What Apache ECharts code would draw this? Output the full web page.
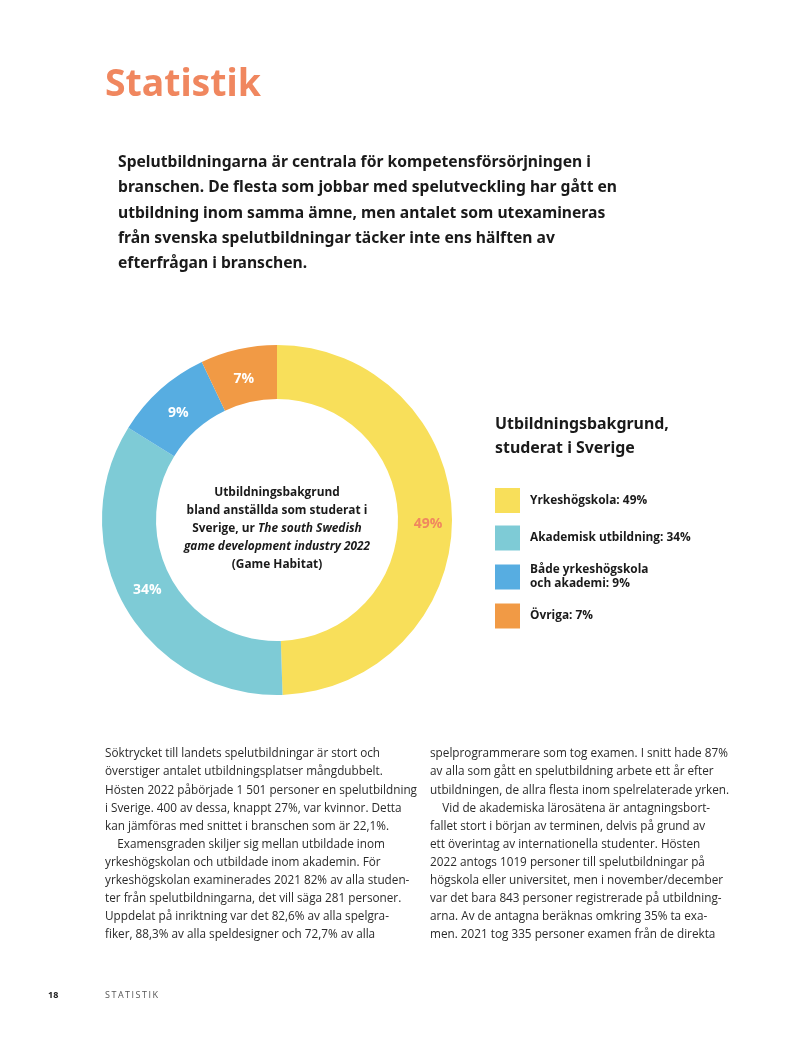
<!DOCTYPE html>
<html><head><meta charset="utf-8">
<script src="https://cdn.jsdelivr.net/npm/echarts@6/dist/echarts.min.js"></script>
<style>html,body{margin:0;padding:0;background:#fff}#c{width:800px;height:1052px}</style>
</head><body><div id="c"></div>
<script>
// ---------- data ----------
const pageTitle = 'Statistik';
const introLines = [
  'Spelutbildningarna är centrala för kompetensförsörjningen i',
  'branschen. De flesta som jobbar med spelutveckling har gått en',
  'utbildning inom samma ämne, men antalet som utexamineras',
  'från svenska spelutbildningar täcker inte ens hälften av',
  'efterfrågan i branschen.'
];
const categories = ['Yrkeshögskola', 'Akademisk utbildning', 'Både yrkeshögskola och akademi', 'Övriga'];
const legendNames = ['Yrkeshögskola', 'Akademisk utbildning', 'Både yrkeshögskola\noch akademi', 'Övriga'];
const shares = [49, 34, 9, 7];
const legendTitleLines = ['Utbildningsbakgrund,', 'studerat i Sverige'];
const centerLines = [
  [['b', 'Utbildningsbakgrund']],
  [['b', 'bland anställda som studerat i']],
  [['b', 'Sverige, ur '], ['bi', 'The south Swedish']],
  [['bi', 'game development industry 2022']],
  [['b', '(Game Habitat)']]
];
const bodyLeft = [
  'Söktrycket till landets spelutbildningar är stort och',
  'överstiger antalet utbildningsplatser mångdubbelt.',
  'Hösten 2022 påbörjade 1 501 personer en spelutbildning',
  'i Sverige. 400 av dessa, knappt 27%, var kvinnor. Detta',
  'kan jämföras med snittet i branschen som är 22,1%.',
  '    Examensgraden skiljer sig mellan utbildade inom',
  'yrkeshögskolan och utbildade inom akademin. För',
  'yrkeshögskolan examinerades 2021 82% av alla studen-',
  'ter från spelutbildningarna, det vill säga 281 personer.',
  'Uppdelat på inriktning var det 82,6% av alla spelgra-',
  'fiker, 88,3% av alla speldesigner och 72,7% av alla'
];
const bodyRight = [
  'spelprogrammerare som tog examen. I snitt hade 87%',
  'av alla som gått en spelutbildning arbete ett år efter',
  'utbildningen, de allra flesta inom spelrelaterade yrken.',
  '    Vid de akademiska lärosätena är antagningsbort-',
  'fallet stort i början av terminen, delvis på grund av',
  'ett överintag av internationella studenter. Hösten',
  '2022 antogs 1019 personer till spelutbildningar på',
  'högskola eller universitet, men i november/december',
  'var det bara 843 personer registrerade på utbildning-',
  'arna. Av de antagna beräknas omkring 35% ta exa-',
  'men. 2021 tog 335 personer examen från de direkta'
];
const pageNumber = '18';
const sectionName = 'S\u2009T\u2009A\u2009T\u2009I\u2009S\u2009T\u2009I\u2009K';

// ---------- styling ----------
const colors = ['#F8DF5A', '#7ECBD6', '#57ADE1', '#F19A45'];
const accent = '#F0875F';
const HEAD = '"Noto Sans", "Open Sans", sans-serif';
const BODY = '"Open Sans", "Noto Sans", sans-serif';
const labelNudge = [[0, 6], [1, -5], [2, 6], [0, 6]];

const mctx = document.createElement('canvas').getContext('2d');
function fit(text, family, weight, style, target) {
  mctx.font = `${style} ${weight} 100px ${family}`;
  return +(100 * target / mctx.measureText(text).width).toFixed(2);
}
const titleSize = fit(pageTitle, HEAD, 'bold', 'normal', 156);
const introSize = fit(introLines[1], HEAD, 'bold', 'normal', 499);
const legTitleSize = fit(legendTitleLines[0], HEAD, 'bold', 'normal', 174);
const bodySize = fit(bodyRight[0], BODY, 'normal', 'normal', 298);
const centerSize = fit(centerLines[1][0][1], BODY, 'bold', 'normal', 181);
const legSize = fit('Akademisk utbildning: 34%', BODY, 'bold', 'normal', 161);

const graphics = [];
graphics.push({ type: 'text', left: 105, top: 67, silent: true,
  style: { text: pageTitle, fill: accent, font: `bold ${titleSize}px ${HEAD}` } });
graphics.push({ type: 'text', left: 118, top: 150, silent: true,
  style: { text: introLines.join('\n'), fill: '#1a1a1a', font: `bold ${introSize}px ${HEAD}`, lineHeight: 25.3 } });
graphics.push({ type: 'text', left: 495, top: 412, silent: true,
  style: { text: legendTitleLines.join('\n'), fill: '#1a1a1a', font: `bold ${legTitleSize}px ${HEAD}`, lineHeight: 24 } });

// center text
const richText = centerLines.map(l => l.map(([k, t]) => `{${k}|${t}}`).join('')).join('\n');
graphics.push({ type: 'text', x: 277, y: 529, silent: true,
  style: { text: richText, align: 'center', verticalAlign: 'middle',
    rich: {
      b: { fontFamily: BODY, fontWeight: 'bold', fontSize: centerSize, lineHeight: 18, fill: '#1a1a1a' },
      bi: { fontFamily: BODY, fontWeight: 'bold', fontStyle: 'italic', fontSize: centerSize, lineHeight: 18, fill: '#1a1a1a' }
    } } });

graphics.push({ type: 'text', left: 105, top: 745, silent: true,
  style: { text: bodyLeft.join('\n'), fill: '#2b2b2b', font: `${bodySize}px ${BODY}`, lineHeight: 18.1 } });
graphics.push({ type: 'text', left: 430, top: 745, silent: true,
  style: { text: bodyRight.join('\n'), fill: '#2b2b2b', font: `${bodySize}px ${BODY}`, lineHeight: 18.1 } });
graphics.push({ type: 'text', left: 48, top: 991, silent: true,
  style: { text: pageNumber, fill: '#1a1a1a', font: `bold 9px ${BODY}` } });
graphics.push({ type: 'text', left: 105, top: 991, silent: true,
  style: { text: sectionName, fill: '#555', font: `9px ${BODY}` } });

const chart = echarts.init(document.getElementById('c'), null, { renderer: 'canvas' });
chart.setOption({
  backgroundColor: '#ffffff',
  animation: false,
  color: colors,
  legend: {
    orient: 'vertical', left: 495, top: 488, padding: 0,
    itemWidth: 25, itemHeight: 25, itemGap: 12.5, icon: 'rect',
    selectedMode: false,
    data: categories,
    formatter: name => {
      const i = categories.indexOf(name);
      return `${legendNames[i]}: ${shares[i]}%`;
    },
    textStyle: { fontFamily: BODY, fontWeight: 'bold', fontSize: legSize, color: '#1a1a1a', lineHeight: 14, padding: [0, 0, 0, 5] }
  },
  series: [{
    type: 'pie',
    center: [277, 520],
    radius: [121, 175],
    startAngle: 90,
    clockwise: true,
    silent: true,
    avoidLabelOverlap: false,
    itemStyle: { borderWidth: 0 },
    label: { position: 'inside', formatter: '{c}%', color: '#ffffff', fontFamily: BODY, fontWeight: 'bold', fontSize: 14 },
    labelLine: { show: false },
    data: categories.map((c, i) => ({
      name: c, value: shares[i],
      label: Object.assign({ offset: labelNudge[i] }, i === 0 ? { color: accent } : {})
    }))
  }],
  graphic: graphics
});
</script></body></html>
